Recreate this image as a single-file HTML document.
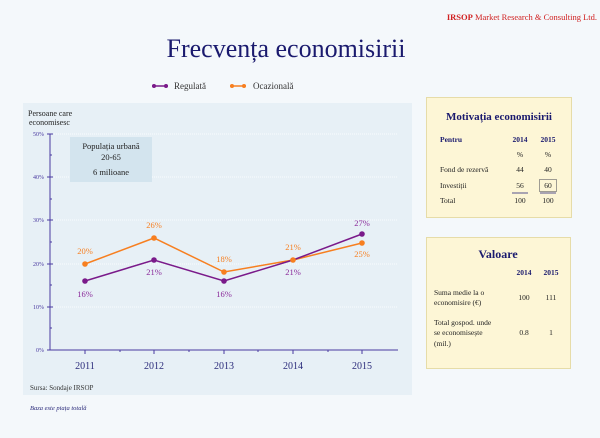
<!DOCTYPE html>
<html><head><meta charset="utf-8"><style>
body{margin:0;width:600px;height:433px;background:#f4f8fb;overflow:hidden;font-family:"Liberation Serif",serif}
</style></head><body>
<svg width="600" height="433" xmlns="http://www.w3.org/2000/svg" font-family="Liberation Serif, serif">
<rect width="600" height="433" fill="#f4f8fb"/>
<text x="597" y="20" text-anchor="end" font-size="8.5" fill="#d02020"><tspan font-weight="bold">IRSOP</tspan> Market Research &amp; Consulting Ltd.</text>
<text x="286" y="57" text-anchor="middle" font-size="26" fill="#1a1a6e">Frecvența economisirii</text>
<!-- legend -->
<line x1="152" y1="86" x2="168" y2="86" stroke="#7a1a8a" stroke-width="1.5"/>
<circle cx="154" cy="86" r="2" fill="#7a1a8a"/><circle cx="166" cy="86" r="2" fill="#7a1a8a"/>
<text x="174" y="89" font-size="9" fill="#333">Regulată</text>
<line x1="230" y1="86" x2="246" y2="86" stroke="#f77f20" stroke-width="1.5"/>
<circle cx="232" cy="86" r="2" fill="#f77f20"/><circle cx="244" cy="86" r="2" fill="#f77f20"/>
<text x="253" y="89" font-size="9" fill="#333">Ocazională</text>
<!-- panel -->
<rect x="23" y="103" width="389" height="292" fill="#e7f0f6"/>
<g stroke="#fff" stroke-width="0.8" stroke-dasharray="1,1">
<line x1="50" y1="134" x2="398" y2="134"/><line x1="50" y1="177" x2="398" y2="177"/><line x1="50" y1="220" x2="398" y2="220"/><line x1="50" y1="264" x2="398" y2="264"/><line x1="50" y1="307" x2="398" y2="307"/>
</g>
<rect x="70" y="137" width="82" height="45" fill="#d3e4ee"/>
<text x="111" y="149" text-anchor="middle" font-size="8.5" fill="#222">Populația urbană</text>
<text x="111" y="160" text-anchor="middle" font-size="8.5" fill="#222">20-65</text>
<text x="111" y="175" text-anchor="middle" font-size="8.5" fill="#222">6 milioane</text>
<text x="28" y="116" font-size="8" fill="#222">Persoane care</text>
<text x="29" y="125" font-size="8" fill="#222">economisesc</text>
<g stroke="#4a3aa0" stroke-width="1">
<line x1="50" y1="134" x2="50" y2="350"/><line x1="47" y1="350" x2="398" y2="350"/>
<line x1="47" y1="134" x2="53" y2="134"/><line x1="47" y1="177" x2="53" y2="177"/><line x1="47" y1="220" x2="53" y2="220"/><line x1="47" y1="264" x2="53" y2="264"/><line x1="47" y1="307" x2="53" y2="307"/>
<line x1="50" y1="155" x2="52" y2="155"/><line x1="50" y1="199" x2="52" y2="199"/><line x1="50" y1="242" x2="52" y2="242"/><line x1="50" y1="285" x2="52" y2="285"/><line x1="50" y1="328" x2="52" y2="328"/>
<line x1="85" y1="350" x2="85" y2="354"/><line x1="154" y1="350" x2="154" y2="354"/><line x1="224" y1="350" x2="224" y2="354"/><line x1="293" y1="350" x2="293" y2="354"/><line x1="362" y1="350" x2="362" y2="354"/>
<line x1="120" y1="350" x2="120" y2="352"/><line x1="189" y1="350" x2="189" y2="352"/><line x1="258" y1="350" x2="258" y2="352"/><line x1="328" y1="350" x2="328" y2="352"/>
</g>
<g font-size="6" fill="#4a3aa0" text-anchor="end">
<text x="44" y="136">50%</text><text x="44" y="179">40%</text><text x="44" y="222">30%</text><text x="44" y="266">20%</text><text x="44" y="309">10%</text><text x="44" y="352">0%</text>
</g>
<g font-size="10" fill="#2a2a7a" text-anchor="middle">
<text x="85" y="369">2011</text><text x="154" y="369">2012</text><text x="224" y="369">2013</text><text x="293" y="369">2014</text><text x="362" y="369">2015</text>
</g>
<polyline points="85,264 154,238 224,272 293,260 362,243" fill="none" stroke="#f77f20" stroke-width="1.5"/>
<polyline points="85,281 154,260 224,281 293,260 362,234" fill="none" stroke="#7a1a8a" stroke-width="1.5"/>
<g fill="#f77f20"><circle cx="85" cy="264" r="2.8"/><circle cx="154" cy="238" r="2.8"/><circle cx="224" cy="272" r="2.8"/><circle cx="293" cy="260" r="2.8"/><circle cx="362" cy="243" r="2.8"/></g>
<g fill="#7a1a8a"><circle cx="85" cy="281" r="2.8"/><circle cx="154" cy="260" r="2.8"/><circle cx="224" cy="281" r="2.8"/><circle cx="362" cy="234" r="2.8"/></g>
<g font-size="8.5" text-anchor="middle" fill="#f77f20">
<text x="85" y="254">20%</text><text x="154" y="228">26%</text><text x="224" y="262">18%</text><text x="293" y="250">21%</text><text x="362" y="257">25%</text>
</g>
<g font-size="8.5" text-anchor="middle" fill="#8a2a9a">
<text x="85" y="297">16%</text><text x="154" y="275">21%</text><text x="224" y="297">16%</text><text x="293" y="275">21%</text><text x="362" y="226">27%</text>
</g>
<text x="30" y="390" font-size="7" fill="#333">Sursa: Sondaje IRSOP</text>
<text x="30" y="410" font-size="6.5" font-style="italic" fill="#2a2a7a">Baza este piața totală</text>
<!-- box 1 -->
<rect x="426.5" y="97.5" width="145" height="120" fill="#fdf6d6" stroke="#e6dca8"/>
<text x="499" y="120" text-anchor="middle" font-size="11" font-weight="bold" fill="#1a1a6e">Motivația economisirii</text>
<g font-size="7.5" fill="#222">
<text x="440" y="142" font-weight="bold" fill="#1a1a6e">Pentru</text>
<text x="520" y="142" text-anchor="middle" font-weight="bold" fill="#1a1a6e">2014</text>
<text x="548" y="142" text-anchor="middle" font-weight="bold" fill="#1a1a6e">2015</text>
<text x="520" y="157" text-anchor="middle">%</text><text x="548" y="157" text-anchor="middle">%</text>
<text x="440" y="172">Fond de rezervă</text><text x="520" y="172" text-anchor="middle">44</text><text x="548" y="172" text-anchor="middle">40</text>
<text x="440" y="188">Investiții</text><text x="520" y="188" text-anchor="middle">56</text><text x="548" y="188" text-anchor="middle">60</text>
<text x="440" y="203">Total</text><text x="520" y="203" text-anchor="middle">100</text><text x="548" y="203" text-anchor="middle">100</text>
</g>
<rect x="539.5" y="179.5" width="17" height="12" fill="none" stroke="#777" stroke-width="0.7"/>
<line x1="512" y1="193" x2="528" y2="193" stroke="#2a2a7a" stroke-width="0.8"/>
<line x1="540" y1="193" x2="556" y2="193" stroke="#2a2a7a" stroke-width="0.8"/>
<!-- box 2 -->
<rect x="426.5" y="237.5" width="144" height="131" fill="#fdf6d6" stroke="#e6dca8"/>
<text x="498" y="258" text-anchor="middle" font-size="12" font-weight="bold" fill="#1a1a6e">Valoare</text>
<g font-size="7.5" fill="#222">
<text x="524" y="275" text-anchor="middle" font-weight="bold" fill="#1a1a6e">2014</text>
<text x="551" y="275" text-anchor="middle" font-weight="bold" fill="#1a1a6e">2015</text>
<text x="434" y="295">Suma medie la o</text><text x="434" y="305">economisire (€)</text>
<text x="524" y="300" text-anchor="middle">100</text><text x="551" y="300" text-anchor="middle">111</text>
<text x="434" y="325">Total gospod. unde</text><text x="434" y="335">se economisește</text><text x="434" y="346">(mil.)</text>
<text x="524" y="335" text-anchor="middle">0.8</text><text x="551" y="335" text-anchor="middle">1</text>
</g>
</svg>
</body></html>
